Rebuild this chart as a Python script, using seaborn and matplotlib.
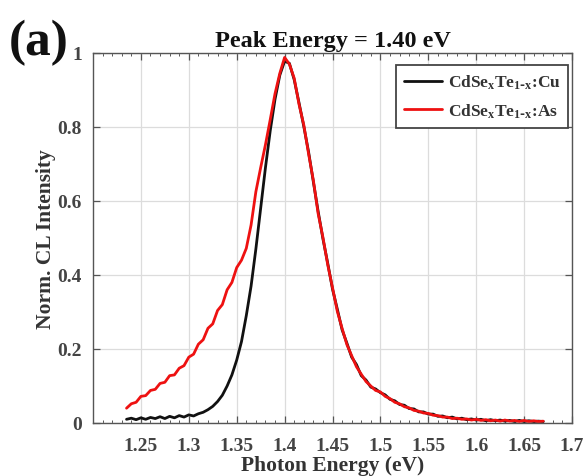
import numpy as np
import pandas as pd
import matplotlib
matplotlib.use("Agg")
import matplotlib.pyplot as plt
from matplotlib.ticker import MultipleLocator, FixedLocator
import seaborn as sns

# ---------------- data ----------------
energy = [1.235, 1.240, 1.245, 1.250, 1.255, 1.260, 1.265, 1.270, 1.275, 1.280,
          1.285, 1.290, 1.295, 1.300, 1.305, 1.310, 1.315, 1.320, 1.325, 1.330,
          1.335, 1.340, 1.345, 1.350, 1.355, 1.360, 1.365, 1.370, 1.375, 1.380,
          1.385, 1.390, 1.395, 1.400, 1.405, 1.410, 1.415, 1.420, 1.425, 1.430,
          1.435, 1.440, 1.445, 1.450, 1.455, 1.460, 1.465, 1.470, 1.475, 1.480,
          1.485, 1.490, 1.495, 1.500, 1.505, 1.510, 1.515, 1.520, 1.525, 1.530,
          1.535, 1.540, 1.545, 1.550, 1.555, 1.560, 1.565, 1.570, 1.575, 1.580,
          1.585, 1.590, 1.595, 1.600, 1.605, 1.610, 1.615, 1.620, 1.625, 1.630,
          1.635, 1.640, 1.645, 1.650, 1.655, 1.660, 1.665, 1.670]

cu_intensity = [0.010, 0.013, 0.009, 0.014, 0.010, 0.015, 0.012, 0.017, 0.012, 0.018,
                0.014, 0.020, 0.016, 0.022, 0.019, 0.025, 0.029, 0.036, 0.045, 0.058,
                0.075, 0.100, 0.130, 0.170, 0.220, 0.290, 0.370, 0.470, 0.580, 0.690,
                0.790, 0.875, 0.940, 0.978, 0.972, 0.928, 0.866, 0.802, 0.733, 0.652,
                0.572, 0.498, 0.432, 0.362, 0.308, 0.252, 0.216, 0.178, 0.158, 0.128,
                0.116, 0.097, 0.092, 0.082, 0.076, 0.064, 0.060, 0.050, 0.048, 0.039,
                0.038, 0.030, 0.030, 0.024, 0.024, 0.018, 0.019, 0.014, 0.016, 0.011,
                0.013, 0.009, 0.011, 0.008, 0.010, 0.006, 0.009, 0.006, 0.008, 0.005,
                0.007, 0.004, 0.007, 0.004, 0.006, 0.004, 0.005, 0.004]

as_intensity = [0.040, 0.052, 0.056, 0.072, 0.074, 0.088, 0.091, 0.107, 0.110, 0.128,
                0.130, 0.148, 0.155, 0.178, 0.186, 0.213, 0.225, 0.256, 0.268, 0.304,
                0.320, 0.360, 0.380, 0.420, 0.440, 0.472, 0.535, 0.625, 0.690, 0.752,
                0.820, 0.890, 0.945, 0.988, 0.970, 0.932, 0.862, 0.806, 0.728, 0.656,
                0.566, 0.502, 0.428, 0.366, 0.302, 0.256, 0.212, 0.182, 0.152, 0.132,
                0.112, 0.100, 0.088, 0.084, 0.072, 0.066, 0.056, 0.052, 0.044, 0.041,
                0.034, 0.032, 0.027, 0.026, 0.021, 0.020, 0.016, 0.016, 0.012, 0.013,
                0.010, 0.011, 0.008, 0.010, 0.007, 0.009, 0.006, 0.008, 0.005, 0.008,
                0.005, 0.007, 0.004, 0.007, 0.004, 0.006, 0.004, 0.005]

series_names = ["CdSe$_\\mathregular{x}$Te$_\\mathregular{1\\text{-}x}$:Cu",
                "CdSe$_\\mathregular{x}$Te$_\\mathregular{1\\text{-}x}$:As"]
series_colors = ["#111111", "#ee1111"]

x_ticks = [1.25, 1.3, 1.35, 1.4, 1.45, 1.5, 1.55, 1.6, 1.65, 1.7]
x_tick_labels = ["1.25", "1.3", "1.35", "1.4", "1.45", "1.5", "1.55", "1.6", "1.65", "1.7"]
y_ticks = [0, 0.2, 0.4, 0.6, 0.8, 1]
y_tick_labels = ["0", "0.2", "0.4", "0.6", "0.8", "1"]

title_text = "Peak Energy = 1.40 eV"
panel_label = "(a)"
x_label = "Photon Energy (eV)"
y_label = "Norm. CL Intensity"

df = pd.DataFrame({
    "energy": energy * 2,
    "intensity": cu_intensity + as_intensity,
    "sample": [series_names[0]] * len(energy) + [series_names[1]] * len(energy),
})

# ---------------- style ----------------
sns.set_style("ticks")
plt.rcParams["font.family"] = ["Liberation Serif", "DejaVu Serif"]
plt.rcParams["font.weight"] = "bold"
plt.rcParams["mathtext.default"] = "regular"

fig = plt.figure(figsize=(5.85, 4.77), dpi=100)
ax = fig.add_axes([93 / 585, 1 - 424 / 477, (572 - 93) / 585, (424 - 54) / 477])

sns.lineplot(data=df, x="energy", y="intensity", hue="sample",
             hue_order=series_names, palette=series_colors,
             linewidth=2.0, ax=ax, sort=False, estimator=None)

ax.set_xlim(1.2, 1.7)
ax.set_ylim(0, 1)
ax.xaxis.set_major_locator(FixedLocator(x_ticks))
ax.set_xticklabels(x_tick_labels)
ax.xaxis.set_minor_locator(MultipleLocator(0.01))
ax.yaxis.set_major_locator(FixedLocator(y_ticks))
ax.set_yticklabels(y_tick_labels)

ax.grid(True, which="major", color="#dcdcdc", linewidth=0.9)
ax.set_axisbelow(True)

ax.tick_params(axis="both", which="both", direction="in", top=True, right=True,
               colors="#555555", labelcolor="#444444")
ax.tick_params(axis="both", which="major", length=5, width=0.9, labelsize=14)
ax.tick_params(axis="x", which="major", pad=10)
ax.tick_params(axis="y", which="major", pad=8)
ax.tick_params(axis="x", which="minor", length=2.5, width=0.7)
for lbl in ax.get_xticklabels() + ax.get_yticklabels():
    lbl.set_fontweight("bold")
for sp in ax.spines.values():
    sp.set_color("#555555")
    sp.set_linewidth(1.0)

ax.set_xlabel(x_label, fontsize=15.5, fontweight="bold", color="#333333", labelpad=1)
ax.set_ylabel(y_label, fontsize=15.5, fontweight="bold", color="#333333", labelpad=1)
ax.set_title(title_text, fontsize=17.5, fontweight="bold", color="#111111", pad=5)

fig.text(39 / 585, 1 - 43 / 477, panel_label, fontsize=37, fontweight="bold",
         ha="center", va="center", color="#111111")

leg = ax.legend(loc="upper right", bbox_to_anchor=(0.992, 0.968), borderaxespad=0,
                fontsize=12.5, handlelength=2.2, handletextpad=0.3,
                labelspacing=0.6, borderpad=0.45, frameon=True, fancybox=False,
                framealpha=1)
leg.get_frame().set_edgecolor("#444444")
leg.get_frame().set_linewidth(1.3)
for t in leg.get_texts():
    t.set_fontweight("bold")
    t.set_color("#333333")
for h in leg.get_lines():
    h.set_linewidth(2.0)

fig.savefig("out.png", dpi=100)
